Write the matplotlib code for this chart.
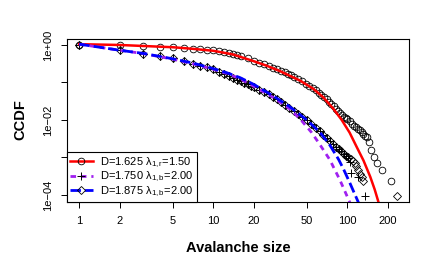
import matplotlib

matplotlib.use("Agg")
import matplotlib.pyplot as plt
from matplotlib.lines import Line2D
from matplotlib.ticker import NullLocator

# Empirical CCDF, D=1.625 (open circles)
circle_size = [1, 2, 3, 4, 5, 6, 7, 8, 9, 10, 11, 12, 13, 14, 15, 16, 18, 20,
               22, 24, 26, 28, 30, 32, 34, 36, 38, 40, 43, 46, 49, 52, 55, 58,
               61, 64, 67, 70, 73, 76, 79, 82, 85, 88, 91, 94, 97, 100, 104,
               108, 112, 116, 120, 124, 128, 132, 136, 140, 145, 150, 157,
               166, 182, 210]
circle_ccdf = [1.0, 0.977, 0.933, 0.891, 0.861, 0.832, 0.804, 0.776, 0.750,
               0.724, 0.684, 0.646, 0.610, 0.575, 0.537, 0.501, 0.437, 0.380,
               0.339, 0.302, 0.272, 0.245, 0.224, 0.204, 0.186, 0.170, 0.155,
               0.141, 0.123, 0.107, 0.0933, 0.0813, 0.0708, 0.0617, 0.0537,
               0.0468, 0.0407, 0.0355, 0.0302, 0.0263, 0.0229, 0.0200, 0.0174,
               0.0155, 0.0138, 0.0123, 0.0112, 0.0105, 0.00912, 0.00794,
               0.00708, 0.00646, 0.00589, 0.00537, 0.00479, 0.00427, 0.00380,
               0.00347, 0.00251, 0.00158, 0.00100, 0.000708, 0.000468,
               0.000234]

# shared body of the D=1.750 (+) and D=1.875 (diamond) samples
band_size = [1, 2, 3, 4, 5, 6, 7, 8, 9, 10, 11, 12, 13, 14, 15, 16, 17, 18,
             19, 20, 22, 24, 26, 28, 30, 32, 34, 37, 40, 43, 46, 50, 54, 58,
             62, 66, 70, 74, 78, 82, 86, 90, 94, 98]
band_ccdf = [1.0, 0.724, 0.589, 0.519, 0.442, 0.363, 0.302, 0.275, 0.251,
             0.226, 0.195, 0.170, 0.148, 0.132, 0.117, 0.107, 0.0977, 0.0891,
             0.0813, 0.0759, 0.0646, 0.0550, 0.0479, 0.0417, 0.0355, 0.0302,
             0.0257, 0.0209, 0.0174, 0.0145, 0.0120, 0.00977, 0.00776,
             0.00617, 0.00501, 0.00398, 0.00324, 0.00269, 0.00224, 0.00191,
             0.00166, 0.00145, 0.00126, 0.00112]

plus_tail_size = [101, 104, 106, 121, 135]
plus_tail_ccdf = [0.000955, 0.000776, 0.000380, 0.000309, 0.0000933]

diamond_tail_size = [102, 106, 110, 114, 117, 121, 124, 128, 132, 234]
diamond_tail_ccdf = [0.00100, 0.000891, 0.000813, 0.000692, 0.000575,
                     0.000468, 0.000355, 0.000295, 0.000229, 0.0000933]

# fitted curves
red_x = [1, 2, 3, 5, 7, 10, 14, 20, 25, 31.5, 44.4, 55.7, 66.2, 78.6, 90.8,
         104, 117.5, 132, 148, 160, 172]
red_y = [1.05, 1.0, 0.94, 0.87, 0.79, 0.70, 0.56, 0.37, 0.28, 0.20, 0.112,
         0.068, 0.040, 0.020, 0.010, 0.0046, 0.0019, 0.00083, 0.00031,
         0.00014, 0.000059]

purple_x = [1, 2, 3, 5, 7, 10, 12.6, 15.8, 20, 28, 37, 44.4, 54, 62.5, 74,
            88, 105]
purple_y = [1.05, 0.724, 0.589, 0.417, 0.316, 0.224, 0.174, 0.126, 0.0794,
            0.0398, 0.0200, 0.0107, 0.00468, 0.00219, 0.00087, 0.000251,
            0.0000603]

blue_x = [1, 2, 3, 5, 7, 10, 12.6, 15.8, 20, 28, 37, 49.8, 62.5, 74, 86, 93.4,
          105, 121]
blue_y = [1.05, 0.724, 0.596, 0.427, 0.331, 0.234, 0.182, 0.135, 0.0891,
          0.0437, 0.0229, 0.0100, 0.00468, 0.00214, 0.00089, 0.00050,
          0.000200, 0.000063]

legend_labels = [
    r"D=1.625 $\mathregular{\lambda_{1,r}}$=1.50",
    r"D=1.750 $\mathregular{\lambda_{1,b}}$=2.00",
    r"D=1.875 $\mathregular{\lambda_{1,b}}$=2.00",
]
x_ticks = [1, 2, 5, 10, 20, 50, 100, 200]
y_ticks = [1e0, 1e-1, 1e-2, 1e-3, 1e-4]
y_tick_labels = ["1e+00", "", "1e\u221202", "", "1e\u221204"]

plt.rcParams["font.family"] = ["Liberation Sans", "DejaVu Sans"]
plt.rcParams["mathtext.fontset"] = "custom"
plt.rcParams["mathtext.rm"] = "Liberation Sans"
plt.rcParams["mathtext.it"] = "Liberation Sans:italic"
plt.rcParams["lines.scale_dashes"] = False

PURPLE = "#A020F0"
purple_dash = (4.0, 3.5)
blue_dash = (7.5, 3.0)

fig = plt.figure(figsize=(4.36, 2.69), dpi=100)
ax = fig.add_axes([0.1537, 0.2491, 0.7844, 0.606])

# sample points
ax.plot(circle_size, circle_ccdf, linestyle="none", marker="o", mfc="none",
        mec="black", ms=4.8, mew=0.6, zorder=2)
ax.plot(band_size + diamond_tail_size, band_ccdf + diamond_tail_ccdf,
        linestyle="none", marker="D", mfc="none", mec="black", ms=3.8,
        mew=0.6, zorder=2)
ax.plot(band_size + plus_tail_size, band_ccdf + plus_tail_ccdf,
        linestyle="none", marker="+", mec="black", ms=5.5, mew=0.7, zorder=2)

# fits
ax.plot(red_x, red_y, color="red", lw=1.8, zorder=3)
ax.plot(purple_x, purple_y, color=PURPLE, lw=2.0, dashes=purple_dash, zorder=3)
ax.plot(blue_x, blue_y, color="blue", lw=2.0, dashes=blue_dash, zorder=3)

ax.set_xscale("log")
ax.set_yscale("log")
ax.set_xlim(0.81, 288.5)
ax.set_ylim(6.5e-5, 1.445)
ax.xaxis.set_minor_locator(NullLocator())
ax.yaxis.set_minor_locator(NullLocator())
ax.set_xticks(x_ticks)
ax.set_xticklabels([str(t) for t in x_ticks])
ax.set_yticks(y_ticks)
ax.set_yticklabels(y_tick_labels, rotation=90, va="center")
ax.tick_params(direction="out", length=4.3, width=0.7, labelsize=8, pad=5.5)
for s in ax.spines.values():
    s.set_linewidth(0.8)

handles = [
    Line2D([], [], color="red", lw=1.8, marker="o", mfc="none", mec="black",
           ms=4.8, mew=0.6),
    Line2D([], [], color=PURPLE, lw=2.0, dashes=purple_dash, marker="+",
           mec="black", ms=5.5, mew=0.7),
    Line2D([], [], color="blue", lw=2.0, dashes=blue_dash, marker="D",
           mfc="none", mec="black", ms=3.8, mew=0.6),
]
leg = ax.legend(handles, legend_labels, loc="lower left", bbox_to_anchor=(0, 0),
                borderaxespad=0, fontsize=8, handlelength=2.0,
                handletextpad=0.7, borderpad=0.3, labelspacing=0.0,
                numpoints=1, fancybox=False, edgecolor="black", framealpha=1)
leg.get_frame().set_linewidth(0.8)

fig.text(238 / 436, 1 - 248 / 269, "Avalanche size", ha="center", va="center",
         fontsize=10.5, fontweight="bold")
fig.text(20 / 436, 1 - 120 / 269, "CCDF", ha="center", va="center",
         rotation=90, fontsize=10.5, fontweight="bold")

fig.savefig("out.png", dpi=100)
